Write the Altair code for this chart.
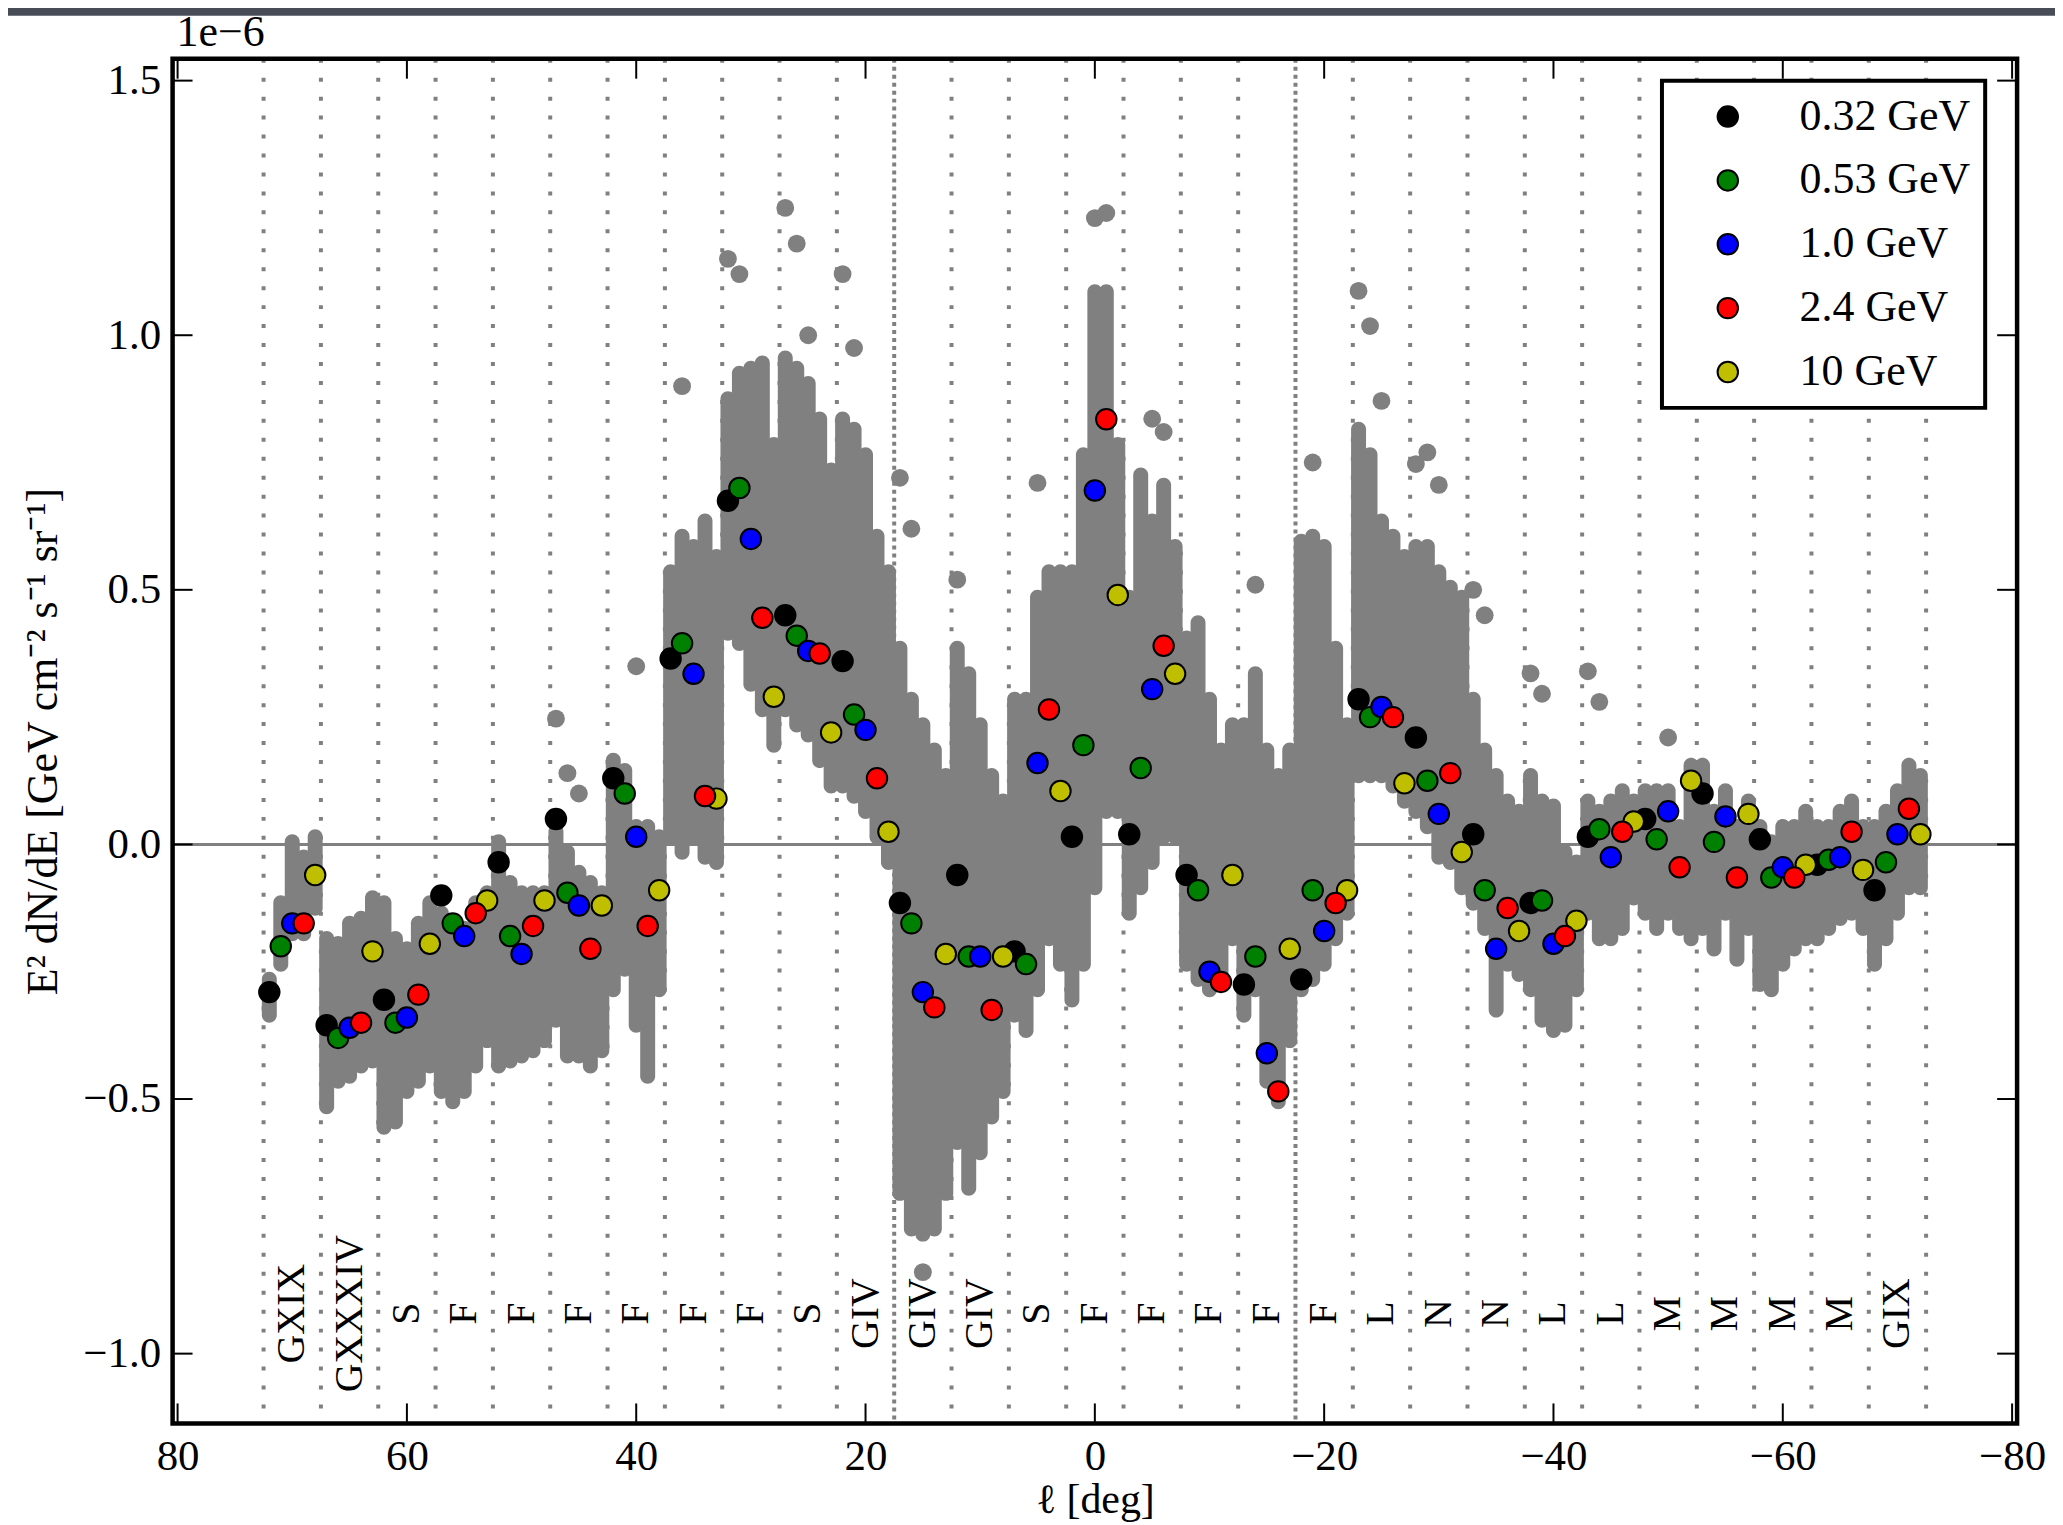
import altair as alt
import pandas as pd

# ---------------- data ----------------
centers = [70, 65, 60, 55, 50, 45, 40, 35, 30, 25, 20, 15, 10, 5, 0,
           -5, -10, -15, -20, -25, -30, -35, -40, -45, -50, -55, -60, -65, -70]
region_labels = ["GXIX", "GXXXIV", "S", "F", "F", "F", "F", "F", "F", "S", "GIV", "GIV", "GIV", "S", "F",
                 "F", "F", "F", "F", "L", "N", "N", "L", "L", "M", "M", "M", "M", "GIX"]
boundaries = [72.5, 67.5, 62.5, 57.5, 52.5, 47.5, 42.5, 37.5, 32.5, 27.5, 22.5, 12.5, 7.5, 2.5,
              -2.5, -7.5, -12.5, -22.5, -27.5, -32.5, -37.5, -42.5, -47.5, -52.5, -57.5, -62.5,
              -67.5, -72.5]
dense_boundaries = [17.5, -17.5]

energies = ["0.32 GeV", "0.53 GeV", "1.0 GeV", "2.4 GeV", "10 GeV"]
offsets = [2, 1, 0, -1, -2]
colors = ["#000000", "#008000", "#0000ff", "#ff0000", "#bfbf00"]

# measured points (units of 1e-6), one per region
e032 = [-0.29, -0.355, -0.305, -0.10, -0.035, 0.05, 0.13, 0.365, 0.675, 0.45, 0.36, -0.115, -0.06, -0.21, 0.015,
        0.02, -0.06, -0.275, -0.265, 0.285, 0.21, 0.02, -0.115, 0.015, 0.05, 0.10, 0.01, -0.04, -0.09]
e053 = [-0.20, -0.38, -0.35, -0.155, -0.18, -0.095, 0.10, 0.395, 0.70, 0.41, 0.255, -0.155, -0.22, -0.235, 0.195,
        0.15, -0.09, -0.22, -0.09, 0.25, 0.125, -0.09, -0.11, 0.03, 0.01, 0.005, -0.065, -0.03, -0.035]
e100 = [-0.155, -0.36, -0.34, -0.18, -0.215, -0.12, 0.015, 0.335, 0.60, 0.38, 0.225, -0.29, -0.22, 0.16, 0.695,
        0.305, -0.25, -0.41, -0.17, 0.27, 0.06, -0.205, -0.195, -0.025, 0.065, 0.055, -0.045, -0.025, 0.02]
e240 = [-0.155, -0.35, -0.295, -0.135, -0.16, -0.205, -0.16, 0.095, 0.445, 0.375, 0.13, -0.32, -0.325, 0.265, 0.835,
        0.39, -0.27, -0.485, -0.115, 0.25, 0.14, -0.125, -0.18, 0.025, -0.045, -0.065, -0.065, 0.025, 0.07]
e1000 = [-0.06, -0.21, -0.195, -0.11, -0.11, -0.12, -0.09, 0.09, 0.29, 0.22, 0.025, -0.215, -0.22, 0.105, 0.49,
         0.335, -0.06, -0.205, -0.09, 0.12, -0.015, -0.17, -0.15, 0.045, 0.125, 0.06, -0.04, -0.05, 0.02]
measured = [e032, e053, e100, e240, e1000]

# grey model spread per column: (low, high) per region, per energy column
grey_032 = [(-0.35, -0.25), (-0.53, -0.17), (-0.57, -0.10), (-0.50, -0.12), (-0.45, 0.02), (-0.36, 0.04),
            (-0.30, 0.18), (0.00, 0.55), (0.40, 0.89), (0.25, 0.97), (0.10, 0.85), (-0.70, 0.40), (-0.60, 0.40),
            (-0.35, 0.30), (-0.32, 0.55), (-0.15, 0.50), (-0.25, 0.42), (-0.35, 0.25), (-0.30, 0.61), (0.12, 0.83),
            (0.05, 0.60), (-0.13, 0.30), (-0.30, 0.15), (-0.15, 0.10), (-0.15, 0.12), (-0.18, 0.17), (-0.29, 0.05),
            (-0.20, 0.05), (-0.25, 0.05)]
grey_053 = [(-0.25, -0.10), (-0.48, -0.18), (-0.56, -0.17), (-0.52, -0.15), (-0.44, -0.06), (-0.43, 0.00),
            (-0.26, 0.16), (-0.03, 0.62), (0.38, 0.94), (0.22, 0.95), (0.08, 0.83), (-0.77, 0.30), (-0.69, 0.35),
            (-0.38, 0.30), (-0.25, 0.78), (-0.10, 0.74), (-0.28, 0.45), (-0.30, 0.35), (-0.28, 0.62), (0.12, 0.78),
            (0.02, 0.60), (-0.18, 0.20), (-0.36, 0.10), (-0.20, 0.08), (-0.18, 0.12), (-0.22, 0.08), (-0.30, 0.02),
            (-0.18, 0.05), (-0.20, 0.08)]
grey_100 = [(-0.19, 0.02), (-0.47, -0.14), (-0.50, -0.19), (-0.50, -0.15), (-0.43, -0.08), (-0.43, -0.04),
            (-0.37, 0.05), (0.00, 0.60), (0.30, 0.95), (0.20, 0.92), (0.05, 0.78), (-0.78, 0.25), (-0.62, 0.25),
            (-0.30, 0.50), (-0.10, 1.10), (-0.05, 0.65), (-0.30, 0.30), (-0.48, 0.20), (-0.25, 0.60), (0.12, 0.65),
            (-0.04, 0.55), (-0.34, 0.15), (-0.38, 0.09), (-0.20, 0.10), (-0.15, 0.12), (-0.15, 0.12), (-0.25, 0.05),
            (-0.16, 0.08), (-0.15, 0.12)]
grey_240 = [(-0.19, -0.01), (-0.45, -0.13), (-0.48, -0.14), (-0.45, -0.10), (-0.42, -0.08), (-0.45, -0.06),
            (-0.47, 0.05), (-0.04, 0.65), (0.25, 0.96), (0.15, 0.85), (0.00, 0.62), (-0.77, 0.20), (-0.55, 0.15),
            (-0.20, 0.55), (0.05, 1.10), (0.00, 0.72), (-0.29, 0.20), (-0.52, 0.15), (-0.20, 0.40), (0.10, 0.62),
            (-0.05, 0.52), (-0.25, 0.10), (-0.37, 0.00), (-0.18, 0.12), (-0.18, 0.05), (-0.24, 0.05), (-0.22, 0.05),
            (-0.15, 0.10), (-0.10, 0.17)]
grey_1000 = [(-0.14, 0.03), (-0.44, -0.09), (-0.45, -0.10), (-0.40, -0.08), (-0.40, -0.08), (-0.42, -0.08),
             (-0.30, 0.03), (-0.05, 0.58), (0.18, 0.80), (0.10, 0.75), (-0.05, 0.55), (-0.70, 0.15), (-0.50, 0.10),
             (-0.25, 0.55), (0.05, 0.80), (0.00, 0.60), (-0.20, 0.25), (-0.40, 0.20), (-0.15, 0.25), (0.07, 0.58),
             (-0.10, 0.50), (-0.27, 0.08), (-0.30, -0.02), (-0.12, 0.10), (-0.20, 0.17), (-0.18, 0.10), (-0.20, 0.08),
             (-0.18, 0.05), (-0.10, 0.15)]
grey_ranges = [grey_032, grey_053, grey_100, grey_240, grey_1000]

# isolated grey model points (longitude, value)
outlier_l = [47, 46, 45, 40, 36, 32, 31, 27, 26, 25, 22, 21, 17, 16, 15, 12, 5, 0, -1,
             -5, -6, -14, -19, -23, -24, -25, -28, -29, -30, -33, -34, -38, -39, -43, -44, -50]
outlier_v = [0.247, 0.14, 0.10, 0.35, 0.90, 1.15, 1.12, 1.25, 1.18, 1.00, 1.12, 0.975, 0.72, 0.62, -0.84, 0.52,
             0.71, 1.23, 1.24, 0.836, 0.81, 0.51, 0.75, 1.087, 1.018, 0.871, 0.747, 0.77, 0.706, 0.50, 0.45,
             0.336, 0.296, 0.34, 0.28, 0.21]

x_ticks = [80, 60, 40, 20, 0, -20, -40, -60, -80]
y_ticks = [1.5, 1.0, 0.5, 0.0, -0.5, -1.0]

# ---------------- tables ----------------
pts = pd.DataFrame([
    {"l": c + off, "v": val, "E": e}
    for e, off, vals in zip(energies, offsets, measured)
    for c, val in zip(centers, vals)
])
grey = pd.DataFrame([
    {"l": c + off, "lo": lo, "hi": hi}
    for off, rng in zip(offsets, grey_ranges)
    for c, (lo, hi) in zip(centers, rng)
])
outl = pd.DataFrame({"l": outlier_l, "v": outlier_v})
regions = pd.DataFrame({"l": centers, "name": region_labels})
bounds = pd.DataFrame({"l": boundaries})
dbounds = pd.DataFrame({"l": dense_boundaries})
xt = pd.DataFrame({"l": x_ticks})
yt = pd.DataFrame({"t": y_ticks})
zero = pd.DataFrame({"t": [0.0]})
one = pd.DataFrame({"d": [0]})

# ---------------- layout ----------------
W, H = 1849, 1368
FONT = "Liberation Serif"
GREY = "#808080"

xs = alt.Scale(domain=[80, -80], nice=False, zero=False)
ys = alt.Scale(domain=[-1.137, 1.543], nice=False, zero=False)
xaxis = alt.Axis(values=x_ticks, format="d", title="ℓ [deg]", ticks=False, tickSize=0, domain=False,
                 grid=False, labelFontSize=43, labelPadding=12, labelFont=FONT, labelColor="black",
                 labelOverlap=False, labelFlush=False, titleFont=FONT, titleFontSize=42,
                 titleFontWeight="normal", titleColor="black", titlePadding=1, zindex=1)
yaxis = alt.Axis(values=y_ticks, format=".1f", title="E² dN/dE [GeV cm⁻² s⁻¹ sr⁻¹]", ticks=False,
                 tickSize=0, domain=False, grid=False, labelFontSize=43, labelPadding=12, labelFont=FONT,
                 labelColor="black", labelOverlap=False, labelFlush=False, titleFont=FONT, titleFontSize=44,
                 titleFontWeight="normal", titleColor="black", titlePadding=17, zindex=1)

X = alt.X("l:Q", scale=xs, axis=xaxis)

paper = alt.Chart(one).mark_rect(color="white").encode(
    x=alt.value(-166), x2=alt.value(W + 40), y=alt.value(-43), y2=alt.value(H + 110))

vlines = alt.Chart(bounds).mark_rule(color=GREY, strokeWidth=4, strokeDash=[4, 15]).encode(x=X)
vlines_dense = alt.Chart(dbounds).mark_rule(color=GREY, strokeWidth=4, strokeDash=[4, 4]).encode(x=X)

zline = alt.Chart(zero).mark_rule(color=GREY, strokeWidth=3).encode(
    y=alt.Y("t:Q", scale=ys, axis=yaxis))

grey_bars = alt.Chart(grey).mark_bar(color=GREY, width=15, cornerRadius=7.5).encode(
    x=X, y=alt.Y("lo:Q", scale=ys, axis=yaxis), y2="hi:Q")

grey_pts = alt.Chart(outl).mark_circle(color=GREY, size=320, opacity=1).encode(
    x=X, y=alt.Y("v:Q", scale=ys, axis=yaxis))

colored = alt.Chart(pts).mark_point(filled=True, size=420, stroke="black", strokeWidth=2, opacity=1).encode(
    x=X, y=alt.Y("v:Q", scale=ys, axis=yaxis),
    color=alt.Color("E:N", sort=energies, scale=alt.Scale(domain=energies, range=colors),
                    legend=alt.Legend(title=None, orient="none", legendX=1493, legendY=22, padding=14,
                                      strokeColor="black", fillColor="white", symbolOffset=30,
                                      labelOffset=50, labelLimit=400, rowPadding=20, labelFontSize=44,
                                      labelFont=FONT, labelColor="black", symbolSize=420, symbolType="circle",
                                      symbolStrokeWidth=2, symbolStrokeColor="black", symbolOpacity=1)),
    order=alt.Order("E:N"))

reg_text = alt.Chart(regions).mark_text(angle=270, align="center", baseline="middle", fontSize=40,
                                        font=FONT, color="black").encode(
    x=X, y=alt.value(1258), text="name:N")

xt_top = alt.Chart(xt).mark_rule(color="black", strokeWidth=2).encode(x=X, y=alt.value(0), y2=alt.value(20))
xt_bot = alt.Chart(xt).mark_rule(color="black", strokeWidth=2).encode(x=X, y=alt.value(H), y2=alt.value(H - 20))
yt_left = alt.Chart(yt).mark_rule(color="black", strokeWidth=2).encode(
    y=alt.Y("t:Q", scale=ys, axis=yaxis), x=alt.value(0), x2=alt.value(20))
yt_right = alt.Chart(yt).mark_rule(color="black", strokeWidth=2).encode(
    y=alt.Y("t:Q", scale=ys, axis=yaxis), x=alt.value(W), x2=alt.value(W - 20))

frame = alt.Chart(one).mark_rect(filled=False, stroke="black", strokeWidth=4.5).encode(
    x=alt.value(0), x2=alt.value(W), y=alt.value(0), y2=alt.value(H))

offset_txt = alt.Chart(one).mark_text(text="1e\u22126", align="left", baseline="alphabetic", fontSize=44,
                                      font=FONT, color="black").encode(x=alt.value(4), y=alt.value(-13))

chart = alt.layer(
    paper, vlines, vlines_dense, zline, grey_bars, grey_pts, colored, reg_text,
    xt_top, xt_bot, yt_left, yt_right, frame, offset_txt
).properties(
    width=W, height=H,
    autosize=alt.AutoSizeParams(type="none"),
    padding={"left": 165, "top": 49, "right": 38, "bottom": 100},
    background="#484c56",
).configure_view(stroke=None).configure_legend(strokeWidth=4)

chart.save("out.html", embed_options={"renderer": "svg", "actions": False})
